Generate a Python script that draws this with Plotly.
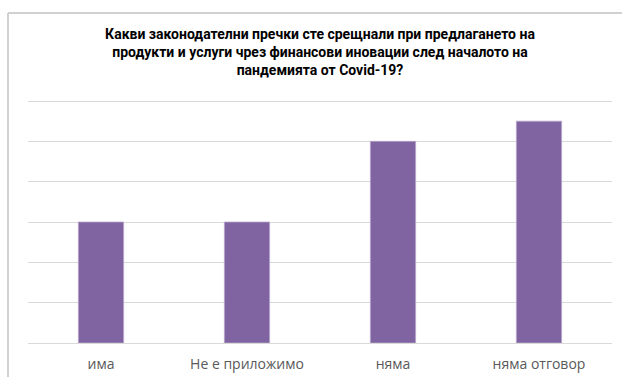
import plotly.graph_objects as go

# Survey answers and number of respondents
categories = ["има", "Не е приложимо", "няма", "няма отговор"]
counts = [3, 3, 5, 5.5]

title_text = ("Какви законодателни пречки сте срещнали при предлагането на<br>"
              "продукти и услуги чрез финансови иновации след началото на<br>"
              "пандемията от Covid-19?")

W, H = 622, 377
L, R, T, B = 28, 10, 99, 34
pw, ph = W - L - R, H - T - B

fig = go.Figure(
    go.Bar(
        x=categories,
        y=counts,
        marker=dict(color="#8064A2", line=dict(color="#B7A6CC", width=0.8)),
        width=0.31,
        hoverinfo="x+y",
    )
)

# chart frame: left and top edges of the outer border
frame = dict(color="#D0D0D0", width=2)
shapes = [
    dict(type="line", xref="paper", yref="paper",
         x0=(8 - L) / pw, x1=(8 - L) / pw,
         y0=-(B + 5) / ph, y1=1 + (T - 13) / ph, line=frame, layer="above"),
    dict(type="line", xref="paper", yref="paper",
         x0=(8 - L) / pw, x1=(W + 5 - L) / pw,
         y0=1 + (T - 13) / ph, y1=1 + (T - 13) / ph, line=frame, layer="above"),
]

fig.update_layout(
    width=W,
    height=H,
    margin=dict(l=L, r=R, t=T, b=B),
    paper_bgcolor="white",
    plot_bgcolor="white",
    showlegend=False,
    title=dict(
        text="<b>" + title_text + "</b>",
        x=(L + pw / 2) / W,
        xanchor="center",
        xref="container",
        y=1 - 39 / H,
        yanchor="top",
        yref="container",
        font=dict(family="Roboto, sans-serif", size=14, color="#000000"),
    ),
    xaxis=dict(
        showgrid=False,
        showline=False,
        ticks="",
        automargin=False,
        ticklabelstandoff=11,
        tickfont=dict(family="Open Sans, sans-serif", size=14, color="#595959"),
    ),
    yaxis=dict(
        range=[0, 6.05],
        dtick=1,
        showticklabels=False,
        showgrid=True,
        gridcolor="#D9D9D9",
        gridwidth=1,
        zeroline=True,
        zerolinecolor="#D9D9D9",
        zerolinewidth=1,
        showline=False,
        ticks="",
        automargin=False,
    ),
    shapes=shapes,
)

fig.write_html("out.html")
